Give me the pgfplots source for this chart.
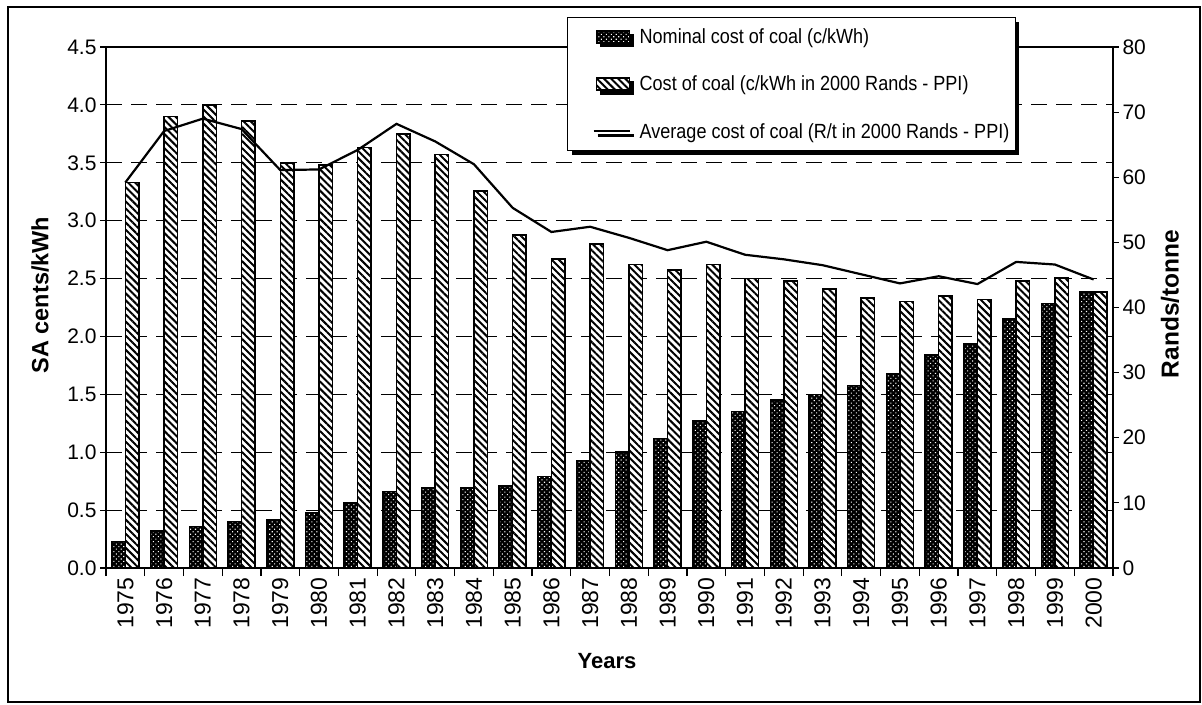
\documentclass[border=0pt]{standalone}
\usepackage{fontspec}
\setmainfont{Liberation Sans}
\newfontfamily\legfamily{Liberation Sans}[FakeStretch=0.88]
\usepackage{pgfplots}
\pgfplotsset{compat=1.18}
\usetikzlibrary{patterns.meta,shadows}

\pgfplotstableread{
x nom real line
0 0.23 3.33 59.2
1 0.32 3.90 67.1
2 0.36 4.00 69.0
3 0.40 3.86 67.4
4 0.42 3.50 61.1
5 0.48 3.48 61.2
6 0.56 3.63 64.2
7 0.66 3.75 68.2
8 0.69 3.57 65.5
9 0.69 3.255 62.0
10 0.71 2.875 55.3
11 0.79 2.67 51.6
12 0.93 2.80 52.4
13 1.00 2.62 50.7
14 1.12 2.575 48.8
15 1.27 2.62 50.1
16 1.35 2.50 48.1
17 1.45 2.48 47.4
18 1.50 2.41 46.5
19 1.575 2.33 45.1
20 1.68 2.30 43.7
21 1.84 2.35 44.8
22 1.935 2.32 43.6
23 2.15 2.48 47.0
24 2.285 2.505 46.6
25 2.385 2.385 44.3
}\datatable

\newcommand{\tickfont}{\fontsize{21bp}{24bp}\selectfont}
\newcommand{\yearfont}{\fontsize{23bp}{25bp}\selectfont}
\newcommand{\ylabfont}{\fontsize{23.5bp}{26bp}\selectfont\bfseries}
\newcommand{\rlabfont}{\fontsize{24.5bp}{26bp}\selectfont\bfseries}
\newcommand{\xlabfont}{\fontsize{22bp}{24bp}\selectfont\bfseries}
\newcommand{\legfont}{\legfamily\fontsize{20.5bp}{23bp}\selectfont}

\tikzset{
  nomstyle/.style={draw=black, line width=1.5bp, fill=black,
    postaction={pattern={Dots[distance=3.5bp, radius=0.75bp, angle=45]}, pattern color=white}},
  realstyle/.style={draw=black, line width=1.5bp, fill=white,
    postaction={pattern={Lines[angle=-45, distance=5bp, line width=2bp]}, pattern color=black}},
}

\begin{document}
\begin{tikzpicture}[x=1bp,y=1bp]
\path[use as bounding box] (0,0) rectangle (1202,-705);
\draw[line width=2.5bp] (8,-7) rectangle (1200,-702);

\begin{axis}[
  at={(106bp,-568bp)}, anchor=south west,
  width=1007bp, height=521bp, scale only axis,
  xmin=-0.5, xmax=25.5, ymin=0, ymax=4.5,
  ytick={0,0.5,...,4.5},
  /pgf/number format/assume math mode=true,
  yticklabel style={font=\tickfont, /pgf/number format/.cd, fixed, fixed zerofill, precision=1},
  xtick={0,...,25},
  xticklabels={1975,1976,1977,1978,1979,1980,1981,1982,1983,1984,1985,1986,1987,1988,1989,1990,1991,1992,1993,1994,1995,1996,1997,1998,1999,2000},
  xticklabel style={rotate=90, anchor=east, font=\yearfont},
  major x tick style={draw=none},
  minor xtick={-0.5,0.5,...,25.5},
  minor tick length=8bp, major tick length=6bp,
  tick align=outside, xtick pos=bottom, ytick pos=left,
  tick style={black, line width=1.2bp},
  ymajorgrids,
  major grid style={black, line width=1.2bp, dash pattern=on 16bp off 9bp},
  axis line style={line width=1.5bp},
  ylabel={SA cents/kWh}, xlabel={Years},
  ylabel style={font=\ylabfont, at={(axis description cs:-0.0655,0.524)}, anchor=center},
  xlabel style={font=\xlabfont, at={(axis description cs:0.4975,-0.1785)}, anchor=center},
  ybar=0pt, bar width=13.5bp,
]
\addplot[nomstyle] table[x=x, y=nom] {\datatable};
\addplot[realstyle] table[x=x, y=real] {\datatable};
\end{axis}

\begin{axis}[
  at={(106bp,-568bp)}, anchor=south west,
  width=1007bp, height=521bp, scale only axis,
  xmin=-0.5, xmax=25.5, ymin=0, ymax=80,
  ytick={0,10,...,80},
  axis y line*=right, axis x line=none,
  /pgf/number format/assume math mode=true,
  yticklabel style={font=\tickfont},
  tick align=outside, major tick length=6bp,
  tick style={black, line width=1.2bp},
  axis line style={line width=1.5bp},
  ylabel={Rands/tonne},
  ylabel style={font=\rlabfont, at={(axis description cs:1.0566,0.507)}, anchor=center},
  legend style={at={(axis description cs:0.4578,1.0576)}, anchor=north west,
    draw=black, line width=1.2bp, fill=white, font=\legfont,
    row sep=27bp, inner xsep=4bp, inner ysep=9bp,
    /tikz/every odd column/.append style={column sep=7bp},
    drop shadow={shadow xshift=4bp, shadow yshift=-4bp, fill=black, opacity=1}},
  legend cell align=left,
]
\addlegendimage{legend image code/.code={\path (0bp,0bp); \draw[nomstyle] (24bp,-6bp) rectangle (57bp,6bp);}}
\addlegendentry{Nominal cost of coal (c/kWh)}
\addlegendimage{legend image code/.code={\path (0bp,0bp); \draw[realstyle] (24bp,-6bp) rectangle (57bp,6bp);}}
\addlegendentry{Cost of coal (c/kWh in 2000 Rands - PPI)}
\addplot[black, line width=2.2bp, mark=none,
  legend image code/.code={\path (0bp,0bp); \draw[black, line width=2bp] (21bp,0bp) -- (57bp,0bp);}]
  table[x=x, y=line] {\datatable};
\addlegendentry{Average cost of coal (R/t in 2000 Rands - PPI)}
\end{axis}
\end{tikzpicture}
\end{document}
